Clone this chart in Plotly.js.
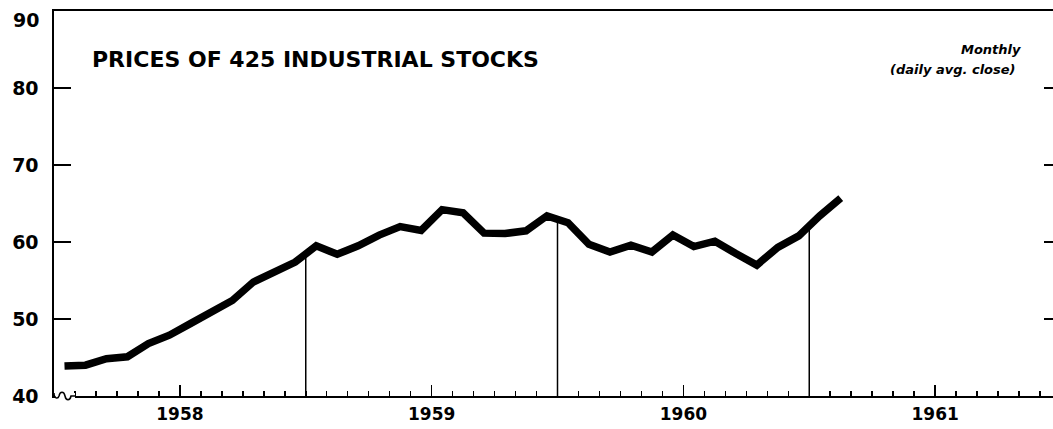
<!DOCTYPE html>
<html><head><meta charset="utf-8">
<script src="https://cdn.plot.ly/plotly-3.0.1.min.js"></script>
<style>html,body{margin:0;padding:0;overflow:hidden;background:#fff;}</style>
</head><body><div id="chart" style="width:1065px;height:429px;"></div>
<script>
// ---- data ----
const yearLabels = ['1958', '1959', '1960', '1961'];
const prices = [
  43.9, 44.0, 44.85, 45.1, 46.8, 47.9, 49.4, 50.9, 52.4, 54.8, 56.2, 57.4,
  59.5, 58.4, 59.5, 60.9, 62.0, 61.5, 64.2, 63.8, 61.15, 61.1, 61.45, 63.4,
  62.5, 59.7, 58.7, 59.6, 58.7, 60.9, 59.4, 60.1, 58.5, 57.0, 59.3, 60.8,
  63.4, 65.7
];
const yTicks = [40, 50, 60, 70, 80, 90];
const yTickLabels = ['40', '50', '60', '70', '80', '90'];
const titleText = 'PRICES OF 425 INDUSTRIAL STOCKS';
const noteLine1 = 'Monthly';
const noteLine2 = '(daily avg. close)';

// ---- build ----
const monthX = prices.map((_, i) => i + 0.5);
const yearMid = yearLabels.map((_, k) => 6 + 12 * k);
const FONT = 'DejaVu Sans, Liberation Sans, sans-serif';

const shapes = [];
// vertical lines at year boundaries (from axis up to the series)
[12, 24, 36].forEach(b => {
  if (b < prices.length) {
    const top = (prices[b - 1] + prices[b]) / 2;
    shapes.push({type: 'line', xref: 'x', yref: 'y', x0: b, x1: b, y0: 40, y1: top,
      line: {color: '#000', width: 1.5}, layer: 'below'});
  }
});
// axis break symbol at the origin (paper-referenced so it is not clipped)
shapes.push({type: 'rect', xref: 'paper', yref: 'paper', xsizemode: 'pixel', ysizemode: 'pixel',
  xanchor: 0, yanchor: 0, x0: 1.5, x1: 21, y0: -3, y1: 3,
  fillcolor: '#fff', line: {width: 0}, layer: 'above'});
shapes.push({type: 'path', xref: 'paper', yref: 'paper', xsizemode: 'pixel', ysizemode: 'pixel',
  xanchor: 0, yanchor: 0,
  path: 'M0,3 C0,-3 4,-3 5,0 C6,5 10,5 11,0 C12,-5 16,-5 17,0 L22,0',
  line: {color: '#000', width: 1.5}, layer: 'above'});

const trace = {
  x: monthX, y: prices, type: 'scatter', mode: 'lines',
  line: {color: '#000', width: 7.5, shape: 'linear'},
  hoverinfo: 'skip'
};

const annotations = [
  {text: titleText, xref: 'paper', yref: 'paper', x: 0.036, y: 0.873,
   xanchor: 'left', yanchor: 'middle', showarrow: false,
   font: {family: FONT, size: 22, weight: 'bold', color: '#000'}},
  {text: noteLine1, xref: 'paper', yref: 'paper', x: 0.9625, y: 0.9,
   xanchor: 'right', yanchor: 'middle', showarrow: false,
   font: {family: FONT, size: 13, weight: 'bold', style: 'italic', color: '#000'}},
  {text: noteLine2, xref: 'paper', yref: 'paper', x: 0.9575, y: 0.849,
   xanchor: 'right', yanchor: 'middle', showarrow: false,
   font: {family: FONT, size: 13, weight: 'bold', style: 'italic', color: '#000'}},
  {text: yTickLabels[yTickLabels.length - 1], xref: 'paper', yref: 'y',
   x: 0, y: yTicks[yTicks.length - 1], xanchor: 'right', yanchor: 'middle',
   xshift: -13, yshift: -9, showarrow: false,
   font: {family: FONT, size: 19, weight: 'bold', color: '#000'}}
];

const layout = {
  width: 1065, height: 429,
  margin: {l: 54, r: 4, t: 11, b: 33},
  paper_bgcolor: '#fff', plot_bgcolor: '#fff',
  showlegend: false,
  xaxis: {
    range: [0, 48], showgrid: false, zeroline: false,
    showline: true, linecolor: '#000', linewidth: 1.6, mirror: true,
    tickmode: 'array', tickvals: yearMid, ticktext: yearLabels,
    ticks: 'inside', ticklen: 11, tickwidth: 1.5, tickcolor: '#000',
    ticklabelstandoff: 2,
    tickfont: {family: FONT, size: 17, weight: 'bold', color: '#000'},
    minor: {ticks: 'inside', ticklen: 5, tickwidth: 1.5, tickcolor: '#000',
            tickmode: 'linear', tick0: 0, dtick: 1, showgrid: false}
  },
  yaxis: {
    range: [40, 90], showgrid: false, zeroline: false,
    showline: true, linecolor: '#000', linewidth: 1.6, mirror: 'ticks',
    tickmode: 'array', tickvals: yTicks.slice(0, -1), ticktext: yTickLabels.slice(0, -1),
    ticks: 'inside', ticklen: 17, tickwidth: 1.6, tickcolor: '#000',
    ticklabelstandoff: 10,
    tickfont: {family: FONT, size: 19, weight: 'bold', color: '#000'}
  },
  shapes: shapes,
  annotations: annotations
};

Plotly.newPlot('chart', [trace], layout, {displayModeBar: false, staticPlot: true});
</script>
</body></html>
